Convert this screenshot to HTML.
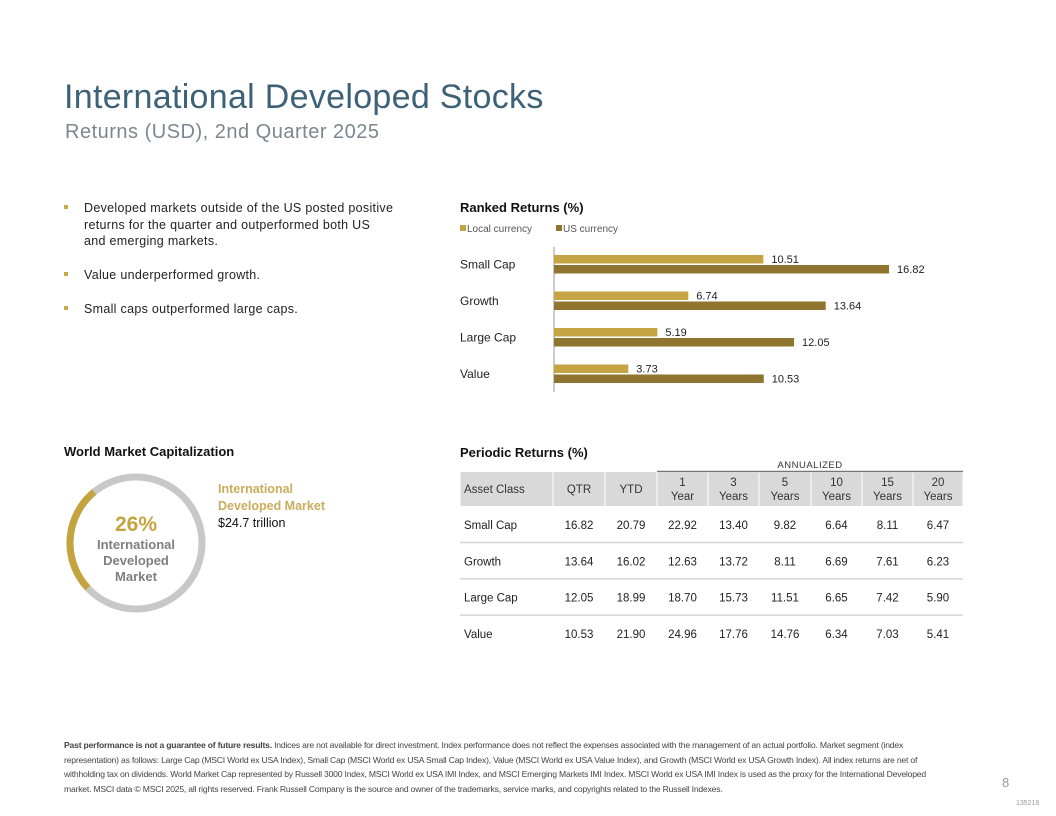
<!DOCTYPE html>
<html><head><meta charset="utf-8"><style>
body{margin:0;width:1056px;height:816px;background:#fff;font-family:"Liberation Sans",sans-serif;position:relative;overflow:hidden}
.a{position:absolute;white-space:nowrap}
#title{left:64px;top:78px;font-size:34px;color:#3d6278;letter-spacing:0.3px}
#sub{left:65px;top:121px;font-size:20px;color:#7b8790;letter-spacing:0.5px}
.bul{left:64px;font-size:12.5px;color:#222;line-height:16.5px;letter-spacing:0.3px}
.bul i{position:absolute;left:0;top:5px;width:4px;height:4px;background:#c9a94a}
.bul span{display:block;padding-left:20px}
.h{font-weight:bold;font-size:13px;color:#111}
#foot{left:64px;top:738px;width:880px;font-size:8.6px;color:#444;line-height:14.5px;white-space:normal;letter-spacing:-0.2px}
</style></head><body>
<div class="a" id="title">International Developed Stocks</div>
<div class="a" id="sub">Returns (USD), 2nd Quarter 2025</div>
<div class="a bul" style="top:200px"><i></i><span>Developed markets outside of the US posted positive<br>returns for the quarter and outperformed both US<br>and emerging markets.</span></div>
<div class="a bul" style="top:267px"><i></i><span>Value underperformed growth.</span></div>
<div class="a bul" style="top:301px"><i></i><span>Small caps outperformed large caps.</span></div>

<div class="a h" style="left:460px;top:200px">Ranked Returns (%)</div>
<svg class="a" id="bars" style="left:0;top:0" width="1056" height="420"></svg>

<div class="a h" style="left:64px;top:444px">World Market Capitalization</div>
<svg class="a" style="left:0;top:0" width="400" height="650">
<circle cx="136" cy="543" r="66" fill="none" stroke="#c8c8c8" stroke-width="7"/>
<path id="gold" fill="none" stroke="#c4a43e" stroke-width="7"/>
<text x="136" y="531" text-anchor="middle" font-size="21" font-weight="bold" fill="#c4a43e" font-family="Liberation Sans">26%</text>
<text x="136" y="549" text-anchor="middle" font-size="13" font-weight="bold" fill="#7f7f7f" font-family="Liberation Sans">International</text>
<text x="136" y="565" text-anchor="middle" font-size="13" font-weight="bold" fill="#7f7f7f" font-family="Liberation Sans">Developed</text>
<text x="136" y="581" text-anchor="middle" font-size="13" font-weight="bold" fill="#7f7f7f" font-family="Liberation Sans">Market</text>
</svg>
<div class="a" style="left:218px;top:481px;font-size:12.5px;font-weight:bold;color:#c9ad5a;line-height:17px">International<br>Developed Market</div>
<div class="a" style="left:218px;top:516px;font-size:12.5px;color:#111">$24.7 trillion</div>

<div class="a h" style="left:460px;top:445px">Periodic Returns (%)</div>
<svg class="a" id="tbl" style="left:0;top:0" width="1056" height="660"></svg>

<div class="a" id="foot"><b>Past performance is not a guarantee of future results.</b> Indices are not available for direct investment. Index performance does not reflect the expenses associated with the management of an actual portfolio. Market segment (index representation) as follows: Large Cap (MSCI World ex USA Index), Small Cap (MSCI World ex USA Small Cap Index), Value (MSCI World ex USA Value Index), and Growth (MSCI World ex USA Growth Index). All index returns are net of withholding tax on dividends. World Market Cap represented by Russell 3000 Index, MSCI World ex USA IMI Index, and MSCI Emerging Markets IMI Index. MSCI World ex USA IMI Index is used as the proxy for the International Developed market. MSCI data © MSCI 2025, all rights reserved. Frank Russell Company is the source and owner of the trademarks, service marks, and copyrights related to the Russell Indexes.</div>
<div class="a" style="left:1002px;top:775px;font-size:13px;color:#999">8</div>
<div class="a" style="left:1016px;top:800px;font-size:7px;color:#999">135216</div>

<script>
const categories=["Small Cap","Growth","Large Cap","Value"];
const localVals=[10.51,6.74,5.19,3.73];
const usVals=[16.82,13.64,12.05,10.53];
const seriesNames=["Local currency","US currency"];
const colors=["#c4a443","#8f7530"];
const NS="http://www.w3.org/2000/svg";
function mk(p,t,at,txt){const e=document.createElementNS(NS,t);for(const k in at)e.setAttribute(k,at[k]);if(txt!==undefined)e.textContent=txt;p.appendChild(e);return e;}
const svg=document.getElementById('bars');
const x0=554, xs=v=>x0+v*19.92, yc=i=>264.5+i*36.5;
seriesNames.forEach((n,i)=>{const lx=460+i*96;
 const r=mk(svg,'rect',{x:lx,y:225,width:6,height:6,fill:colors[i]});
 
 
 const t=mk(svg,'text',{x:lx+7,y:232,'font-size':10,fill:'#555','font-family':'Liberation Sans'},n);
 
 
});
mk(svg,'line',{x1:x0,x2:x0,y1:247,y2:392,stroke:'#999','stroke-width':1});
categories.forEach((c,i)=>{const y=yc(i);
 const t=mk(svg,'text',{x:460,y:y+4,'font-size':12,fill:'#222','font-family':'Liberation Sans'},c);
 
 
 [[localVals[i],y-9.5],[usVals[i],y+0.5]].forEach(([v,yy],k)=>{
  const b=mk(svg,'rect',{x:x0,y:yy,width:xs(v)-x0,height:8.5,fill:colors[k]});
  
  
  const l=mk(svg,'text',{x:xs(v)+8,y:yy+8,'font-size':11,fill:'#222','font-family':'Liberation Sans'},v.toFixed(2));
  
  
 });
});
const share=0.26, cx=136, cy=543, R=66, start=227;
const a0=start*Math.PI/180, a1=(start+share*360)*Math.PI/180;
const pt=a=>[cx+R*Math.sin(a),cy-R*Math.cos(a)];
const [sx,sy]=pt(a0),[ex,ey]=pt(a1);
document.getElementById('gold').setAttribute('d',`M${sx} ${sy} A${R} ${R} 0 0 1 ${ex} ${ey}`);
const headers=[["Asset Class"],["QTR"],["YTD"],["1","Year"],["3","Years"],["5","Years"],["10","Years"],["15","Years"],["20","Years"]];
const rows=["Small Cap","Growth","Large Cap","Value"];
const tableVals=[
 [16.82,20.79,22.92,13.40,9.82,6.64,8.11,6.47],
 [13.64,16.02,12.63,13.72,8.11,6.69,7.61,6.23],
 [12.05,18.99,18.70,15.73,11.51,6.65,7.42,5.90],
 [10.53,21.90,24.96,17.76,14.76,6.34,7.03,5.41]];
const tb=document.getElementById('tbl');
const cols=[460,553,605,657,708,759,811,862,913,963];
mk(tb,'text',{x:(cols[3]+cols[9])/2,y:468,'font-size':9.5,fill:'#333','text-anchor':'middle','font-family':'Liberation Sans','letter-spacing':'0.5'},'ANNUALIZED');
mk(tb,'line',{x1:cols[3],x2:cols[9],y1:471.5,y2:471.5,stroke:'#777','stroke-width':1.5});
headers.forEach((h,j)=>{
 const r=mk(tb,'rect',{x:cols[j]+0.5,y:472,width:cols[j+1]-cols[j]-1,height:34,fill:'#d9d9d9'});
 
 
 const xx=j==0?cols[0]+4:(cols[j]+cols[j+1])/2, an=j==0?'start':'middle';
 if(h.length==1) mk(tb,'text',{x:xx,y:493,'font-size':11.5,fill:'#333','text-anchor':an,'font-family':'Liberation Sans'},h[0]);
 else {mk(tb,'text',{x:xx,y:486,'font-size':11.5,fill:'#333','text-anchor':an,'font-family':'Liberation Sans'},h[0]);
  mk(tb,'text',{x:xx,y:500,'font-size':11.5,fill:'#333','text-anchor':an,'font-family':'Liberation Sans'},h[1]);}
});
rows.forEach((rn,i)=>{const y=525+i*36.3;
 const t=mk(tb,'text',{x:cols[0]+4,y:y+4,'font-size':11.5,fill:'#222','font-family':'Liberation Sans'},rn);
 
 
 tableVals[i].forEach((v,j)=>{
  const c=mk(tb,'text',{x:(cols[j+1]+cols[j+2])/2,y:y+4,'font-size':11.5,fill:'#222','text-anchor':'middle','font-family':'Liberation Sans'},v.toFixed(2));
  
  
 });
 if(i<3) mk(tb,'line',{x1:cols[0],x2:cols[9],y1:y+17.5,y2:y+17.5,stroke:'#d6d6d6','stroke-width':1.5});
});
</script>
</body></html>
